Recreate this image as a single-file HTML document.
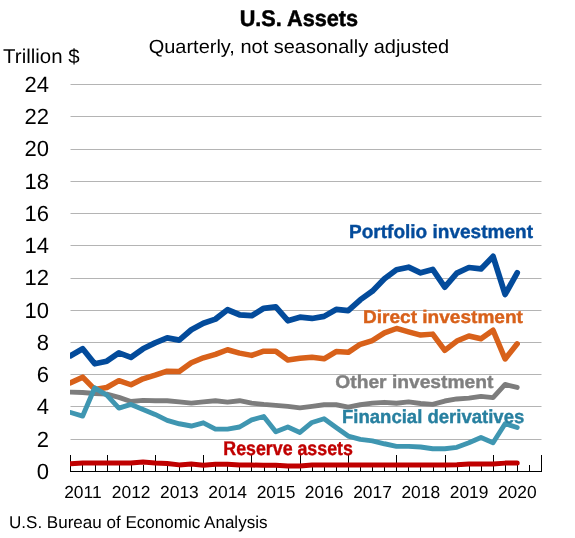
<!DOCTYPE html>
<html><head><meta charset="utf-8"><style>
html,body{margin:0;padding:0;background:#fff;width:575px;height:538px;overflow:hidden}
svg{display:block;will-change:transform}
text{font-family:"Liberation Sans",sans-serif;text-rendering:geometricPrecision}
</style></head><body>
<svg width="575" height="538" viewBox="0 0 575 538">
<defs><clipPath id="pa"><rect x="70" y="60" width="500" height="420"/></clipPath></defs>
<rect width="575" height="538" fill="#fff"/>
<text x="239.70" y="25.50" font-size="22.67" textLength="118.43" lengthAdjust="spacingAndGlyphs" font-weight="bold" fill="#000" stroke="#000" stroke-width="0.5">U.S. Assets</text>
<text x="148.70" y="53.40" font-size="19.04" textLength="300.54" lengthAdjust="spacingAndGlyphs" fill="#000">Quarterly, not seasonally adjusted</text>
<text x="3.10" y="62.70" font-size="19.91" textLength="76.48" lengthAdjust="spacingAndGlyphs" fill="#000">Trillion $</text>
<g stroke="#B4B4B4" stroke-width="1"><line x1="70.5" x2="541.5" y1="84.5" y2="84.5"/><line x1="70.5" x2="541.5" y1="116.5" y2="116.5"/><line x1="70.5" x2="541.5" y1="149.5" y2="149.5"/><line x1="70.5" x2="541.5" y1="181.5" y2="181.5"/><line x1="70.5" x2="541.5" y1="213.5" y2="213.5"/><line x1="70.5" x2="541.5" y1="245.5" y2="245.5"/><line x1="70.5" x2="541.5" y1="278.5" y2="278.5"/><line x1="70.5" x2="541.5" y1="310.5" y2="310.5"/><line x1="70.5" x2="541.5" y1="342.5" y2="342.5"/><line x1="70.5" x2="541.5" y1="374.5" y2="374.5"/><line x1="70.5" x2="541.5" y1="406.5" y2="406.5"/><line x1="70.5" x2="541.5" y1="439.5" y2="439.5"/></g>
<g font-size="22" text-anchor="end" fill="#000"><text x="48.9" y="478.9">0</text><text x="48.9" y="446.6">2</text><text x="48.9" y="414.4">4</text><text x="48.9" y="382.1">6</text><text x="48.9" y="349.9">8</text><text x="48.9" y="317.6">10</text><text x="48.9" y="285.4">12</text><text x="48.9" y="253.2">14</text><text x="48.9" y="220.9">16</text><text x="48.9" y="188.7">18</text><text x="48.9" y="156.4">20</text><text x="48.9" y="124.2">22</text><text x="48.9" y="91.9">24</text></g>
<g stroke="#000" stroke-width="1"><line x1="70.5" x2="70.5" y1="455.0" y2="472"/><line x1="82.5" x2="82.5" y1="465.0" y2="472"/><line x1="95.5" x2="95.5" y1="465.0" y2="472"/><line x1="107.5" x2="107.5" y1="455.0" y2="472"/><line x1="119.5" x2="119.5" y1="465.0" y2="472"/><line x1="131.5" x2="131.5" y1="465.0" y2="472"/><line x1="143.5" x2="143.5" y1="465.0" y2="472"/><line x1="155.5" x2="155.5" y1="455.0" y2="472"/><line x1="167.5" x2="167.5" y1="465.0" y2="472"/><line x1="179.5" x2="179.5" y1="465.0" y2="472"/><line x1="191.5" x2="191.5" y1="465.0" y2="472"/><line x1="203.5" x2="203.5" y1="455.0" y2="472"/><line x1="215.5" x2="215.5" y1="465.0" y2="472"/><line x1="227.5" x2="227.5" y1="465.0" y2="472"/><line x1="239.5" x2="239.5" y1="465.0" y2="472"/><line x1="251.5" x2="251.5" y1="455.0" y2="472"/><line x1="264.5" x2="264.5" y1="465.0" y2="472"/><line x1="276.5" x2="276.5" y1="465.0" y2="472"/><line x1="288.5" x2="288.5" y1="465.0" y2="472"/><line x1="300.5" x2="300.5" y1="455.0" y2="472"/><line x1="312.5" x2="312.5" y1="465.0" y2="472"/><line x1="324.5" x2="324.5" y1="465.0" y2="472"/><line x1="336.5" x2="336.5" y1="465.0" y2="472"/><line x1="348.5" x2="348.5" y1="455.0" y2="472"/><line x1="360.5" x2="360.5" y1="465.0" y2="472"/><line x1="372.5" x2="372.5" y1="465.0" y2="472"/><line x1="384.5" x2="384.5" y1="465.0" y2="472"/><line x1="396.5" x2="396.5" y1="455.0" y2="472"/><line x1="408.5" x2="408.5" y1="465.0" y2="472"/><line x1="420.5" x2="420.5" y1="465.0" y2="472"/><line x1="433.5" x2="433.5" y1="465.0" y2="472"/><line x1="445.5" x2="445.5" y1="455.0" y2="472"/><line x1="457.5" x2="457.5" y1="465.0" y2="472"/><line x1="469.5" x2="469.5" y1="465.0" y2="472"/><line x1="481.5" x2="481.5" y1="465.0" y2="472"/><line x1="493.5" x2="493.5" y1="455.0" y2="472"/><line x1="505.5" x2="505.5" y1="465.0" y2="472"/><line x1="517.5" x2="517.5" y1="465.0" y2="472"/><line x1="529.5" x2="529.5" y1="465.0" y2="472"/><line x1="541.5" x2="541.5" y1="455.0" y2="472"/><line x1="70" x2="542" y1="471.5" y2="471.5"/></g>
<g font-size="17.4" text-anchor="middle" fill="#000"><text x="82.9" y="498">2011</text><text x="131.2" y="498">2012</text><text x="179.4" y="498">2013</text><text x="227.7" y="498">2014</text><text x="276.0" y="498">2015</text><text x="324.2" y="498">2016</text><text x="372.5" y="498">2017</text><text x="420.8" y="498">2018</text><text x="469.1" y="498">2019</text><text x="517.3" y="498">2020</text></g>
<g fill="none" stroke-linejoin="round" stroke-linecap="round" clip-path="url(#pa)">
<polyline stroke="#034B9B" stroke-width="5.75" points="70.60,355.72 82.67,348.79 94.74,363.79 106.81,361.20 118.88,352.82 130.95,357.33 143.02,348.79 155.09,342.82 167.16,337.82 179.23,340.08 191.30,329.76 203.37,323.15 215.44,319.12 227.51,309.77 239.58,314.76 251.65,315.73 263.72,308.31 275.79,306.86 287.86,320.73 299.93,317.18 312.00,318.47 324.07,316.38 336.14,309.44 348.21,310.73 360.28,299.77 372.35,291.22 384.42,278.81 396.49,269.78 408.56,267.20 420.63,272.84 432.70,269.45 444.77,287.19 456.84,273.16 468.91,267.52 480.98,268.97 493.05,256.39 505.12,294.45 517.19,272.84"/>
<polyline stroke="#D8611A" stroke-width="5.5" points="70.60,382.81 82.67,377.17 94.74,389.42 106.81,387.49 118.88,380.72 130.95,384.75 143.02,378.78 155.09,375.23 167.16,371.20 179.23,371.52 191.30,362.82 203.37,357.82 215.44,354.43 227.51,349.76 239.58,353.14 251.65,355.40 263.72,351.21 275.79,351.21 287.86,360.08 299.93,358.30 312.00,357.17 324.07,358.79 336.14,351.53 348.21,352.34 360.28,344.27 372.35,340.56 384.42,332.82 396.49,328.47 408.56,331.86 420.63,335.08 432.70,334.12 444.77,350.40 456.84,341.05 468.91,336.05 480.98,338.79 493.05,330.25 505.12,358.95 517.19,343.79"/>
<polyline stroke="#7D7D7D" stroke-width="4.9" points="70.60,392.17 82.67,392.49 94.74,393.45 106.81,394.10 118.88,397.32 130.95,401.52 143.02,400.39 155.09,400.71 167.16,400.71 179.23,401.84 191.30,403.13 203.37,401.84 215.44,400.71 227.51,402.16 239.58,400.71 251.65,403.13 263.72,404.42 275.79,405.39 287.86,406.36 299.93,407.81 312.00,406.36 324.07,404.74 336.14,404.74 348.21,407.16 360.28,404.74 372.35,403.13 384.42,402.32 396.49,403.29 408.56,401.84 420.63,403.45 432.70,404.42 444.77,401.03 456.84,398.94 468.91,398.13 480.98,396.36 493.05,397.65 505.12,384.43 517.19,387.49"/>
<polyline stroke="#3F96B1" stroke-width="4.9" points="70.60,412.48 82.67,416.03 94.74,387.81 106.81,395.07 118.88,408.13 130.95,404.42 143.02,409.42 155.09,414.42 167.16,420.38 179.23,423.77 191.30,426.03 203.37,422.80 215.44,429.09 227.51,429.09 239.58,427.00 251.65,419.90 263.72,416.51 275.79,431.83 287.86,427.00 299.93,432.48 312.00,422.48 324.07,418.77 336.14,427.48 348.21,436.02 360.28,439.41 372.35,440.86 384.42,443.76 396.49,446.35 408.56,446.35 420.63,446.99 432.70,448.76 444.77,448.76 456.84,447.31 468.91,442.80 480.98,437.48 493.05,442.80 505.12,423.77 517.19,427.48"/>
<polyline stroke="#C00000" stroke-width="5" points="70.60,463.76 82.67,463.12 94.74,462.95 106.81,462.95 118.88,462.95 130.95,462.95 143.02,461.99 155.09,462.95 167.16,463.44 179.23,464.89 191.30,464.08 203.37,465.21 215.44,464.24 227.51,464.24 239.58,465.05 251.65,465.05 263.72,465.37 275.79,465.37 287.86,466.02 299.93,466.02 312.00,465.05 324.07,465.05 336.14,465.05 348.21,465.05 360.28,465.05 372.35,465.05 384.42,465.05 396.49,465.05 408.56,465.05 420.63,465.05 432.70,465.05 444.77,465.05 456.84,464.73 468.91,464.08 480.98,464.08 493.05,464.08 505.12,463.12 517.19,463.12"/>
</g>
<g font-weight="bold" stroke-width="0.4">
<text x="349.00" y="238.40" font-size="19.04" textLength="183.98" lengthAdjust="spacingAndGlyphs" fill="#034B9B" stroke="#034B9B">Portfolio investment</text>
<text x="363.00" y="323.40" font-size="18.17" textLength="159.98" lengthAdjust="spacingAndGlyphs" fill="#D8611A" stroke="#D8611A">Direct investment</text>
<text x="335.30" y="388.40" font-size="18.31" textLength="158.08" lengthAdjust="spacingAndGlyphs" fill="#808080" stroke="#808080">Other investment</text>
<text x="342.00" y="423.40" font-size="18.90" textLength="182.26" lengthAdjust="spacingAndGlyphs" fill="#2880A0" stroke="#2880A0">Financial derivatives</text>
<text x="223.30" y="454.50" font-size="19.77" textLength="129.57" lengthAdjust="spacingAndGlyphs" fill="#C00000" stroke="#C00000">Reserve assets</text>
</g>
<text x="9.00" y="527.70" font-size="17.15" textLength="258.49" lengthAdjust="spacingAndGlyphs" fill="#000">U.S. Bureau of Economic Analysis</text>
</svg>
</body></html>
